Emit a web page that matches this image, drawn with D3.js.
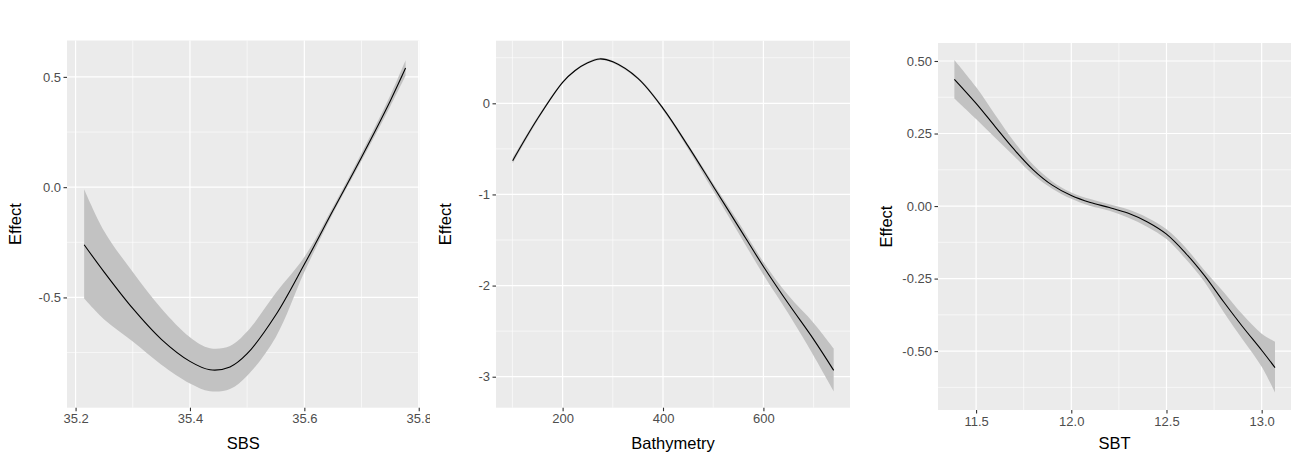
<!DOCTYPE html>
<html>
<head>
<meta charset="utf-8">
<script src="https://cdn.jsdelivr.net/npm/d3@7"></script>
<style>
  body { margin: 0; background: #fff; }
  svg { display: block; font-family: "Liberation Sans", Arial, sans-serif; }
</style>
</head>
<body>
<svg width="1293" height="455"></svg>
<script>
// SBS smooth term
const sbsX     = [35.215, 35.25, 35.3, 35.35, 35.4, 35.435, 35.47, 35.5, 35.55, 35.6, 35.65, 35.7, 35.75, 35.777];
const sbsFit   = [-0.261, -0.385, -0.55, -0.69, -0.79, -0.828, -0.815, -0.755, -0.58, -0.35, -0.106, 0.136, 0.39, 0.54];
const sbsLower = [-0.505, -0.6, -0.7, -0.805, -0.89, -0.925, -0.915, -0.855, -0.68, -0.385, -0.12, 0.12, 0.365, 0.505];
const sbsUpper = [-0.01, -0.2, -0.385, -0.55, -0.68, -0.73, -0.72, -0.655, -0.48, -0.317, -0.09, 0.155, 0.415, 0.576];
const sbsXTicks = [35.2, 35.4, 35.6, 35.8];
const sbsYTicks = [-0.5, 0, 0.5];

// Bathymetry smooth term
const bathX     = [100.5, 150, 200, 225, 250, 274, 300, 350, 400, 450, 500, 550, 600, 650, 700, 740];
const bathFit   = [-0.63, -0.17, 0.23, 0.36, 0.445, 0.487, 0.455, 0.274, -0.055, -0.47, -0.91, -1.35, -1.79, -2.2, -2.59, -2.93];
const bathLower = [-0.66, -0.19, 0.218, 0.348, 0.433, 0.475, 0.443, 0.26, -0.075, -0.5, -0.96, -1.42, -1.88, -2.31, -2.77, -3.16];
const bathUpper = [-0.60, -0.15, 0.242, 0.372, 0.457, 0.499, 0.467, 0.288, -0.04, -0.45, -0.88, -1.30, -1.74, -2.11, -2.41, -2.69];
const bathXTicks = [200, 400, 600];
const bathYTicks = [-3, -2, -1, 0];

// SBT smooth term
const sbtX     = [11.386, 11.5, 11.6, 11.7, 11.8, 11.9, 12.0, 12.1, 12.2, 12.3, 12.4, 12.5, 12.6, 12.7, 12.8, 12.9, 13.0, 13.07];
const sbtFit   = [0.437, 0.354, 0.274, 0.195, 0.125, 0.072, 0.036, 0.012, -0.005, -0.025, -0.055, -0.097, -0.162, -0.24, -0.33, -0.416, -0.497, -0.557];
const sbtLower = [0.371, 0.30, 0.235, 0.172, 0.108, 0.06, 0.025, 0.0, -0.016, -0.04, -0.072, -0.114, -0.182, -0.262, -0.365, -0.46, -0.554, -0.643];
const sbtUpper = [0.503, 0.41, 0.315, 0.222, 0.142, 0.085, 0.047, 0.024, 0.006, -0.012, -0.04, -0.08, -0.143, -0.222, -0.296, -0.374, -0.44, -0.468];
const sbtXTicks = [11.5, 12.0, 12.5, 13.0];
const sbtYTicks = [-0.5, -0.25, 0, 0.25, 0.5];

const panels = [
  { title: "SBS", x: sbsX, fit: sbsFit, lo: sbsLower, hi: sbsUpper,
    xTicks: sbsXTicks, yTicks: sbsYTicks, xFmt: d3.format(".1f"), yFmt: d3.format(".1f"),
    box: [67, 40.5, 419.3, 407.7], xDom: [35.185, 35.801], yDom: [-1.0, 0.665], yTitleX: 15, clipRight: 430 },
  { title: "Bathymetry", x: bathX, fit: bathFit, lo: bathLower, hi: bathUpper,
    xTicks: bathXTicks, yTicks: bathYTicks, xFmt: d3.format("d"), yFmt: d3.format("d"),
    box: [496, 40.7, 850, 407.7], xDom: [67.3, 772.5], yDom: [-3.34, 0.687], yTitleX: 445, clipRight: 900 },
  { title: "SBT", x: sbtX, fit: sbtFit, lo: sbtLower, hi: sbtUpper,
    xTicks: sbtXTicks, yTicks: sbtYTicks, xFmt: d3.format(".1f"), yFmt: d3.format(".2f"),
    box: [938, 43, 1291, 410], xDom: [11.30, 13.154], yDom: [-0.703, 0.562], yTitleX: 886, clipRight: 1293 }
];

const svg = d3.select("svg");
const minus = s => s.replace("\u2212", "-");
const smooth = d3.curveCatmullRom.alpha(0.5);

// minor breaks: midpoints between majors, plus one step outside if still inside the domain
function minorBreaks(ticks, dom) {
  const step = ticks[1] - ticks[0];
  const out = [];
  for (let v = ticks[0] - step / 2; v <= ticks[ticks.length - 1] + step / 2 + 1e-9; v += step) {
    if (v >= dom[0] && v <= dom[1]) out.push(v);
  }
  return out;
}

panels.forEach((p, i) => {
  const [x0, y0, x1, y1] = p.box;
  const xScale = d3.scaleLinear().domain(p.xDom).range([x0, x1]);
  const yScale = d3.scaleLinear().domain(p.yDom).range([y1, y0]);

  svg.append("clipPath").attr("id", "clip" + i)
    .append("rect").attr("x", 0).attr("y", 0).attr("width", p.clipRight).attr("height", 455);

  const g = svg.append("g").attr("clip-path", `url(#clip${i})`);

  g.append("rect")
    .attr("x", x0).attr("y", y0)
    .attr("width", x1 - x0).attr("height", y1 - y0)
    .attr("fill", "#ebebeb");

  // grid
  const grid = g.append("g").attr("stroke", "#fff").attr("fill", "none");
  minorBreaks(p.xTicks, p.xDom).forEach(v => {
    grid.append("line").attr("x1", xScale(v)).attr("x2", xScale(v))
      .attr("y1", y0).attr("y2", y1).attr("stroke-width", 0.6);
  });
  minorBreaks(p.yTicks, p.yDom).forEach(v => {
    grid.append("line").attr("y1", yScale(v)).attr("y2", yScale(v))
      .attr("x1", x0).attr("x2", x1).attr("stroke-width", 0.6);
  });
  p.xTicks.forEach(v => {
    grid.append("line").attr("x1", xScale(v)).attr("x2", xScale(v))
      .attr("y1", y0).attr("y2", y1).attr("stroke-width", 1.2);
  });
  p.yTicks.forEach(v => {
    grid.append("line").attr("y1", yScale(v)).attr("y2", yScale(v))
      .attr("x1", x0).attr("x2", x1).attr("stroke-width", 1.2);
  });

  const rows = p.x.map((xv, k) => ({ x: xv, fit: p.fit[k], lo: p.lo[k], hi: p.hi[k] }));

  const area = d3.area()
    .x(d => xScale(d.x))
    .y0(d => yScale(d.lo))
    .y1(d => yScale(d.hi))
    .curve(smooth);
  g.append("path").datum(rows).attr("d", area).attr("fill", "#c2c2c2");

  const line = d3.line()
    .x(d => xScale(d.x))
    .y(d => yScale(d.fit))
    .curve(smooth);
  g.append("path").datum(rows).attr("d", line)
    .attr("fill", "none").attr("stroke", "#000").attr("stroke-width", 1.1);

  // axes
  const xAxis = d3.axisBottom(xScale).tickValues(p.xTicks).tickSize(3.5).tickPadding(3)
    .tickFormat(d => minus(p.xFmt(d)));
  const gx = g.append("g").attr("transform", `translate(0,${y1})`).call(xAxis);
  const yAxis = d3.axisLeft(yScale).tickValues(p.yTicks).tickSize(3.5).tickPadding(2.5)
    .tickFormat(d => minus(p.yFmt(d)));
  const gy = g.append("g").attr("transform", `translate(${x0},0)`).call(yAxis);

  [gx, gy].forEach(a => {
    a.select(".domain").remove();
    a.selectAll(".tick line").attr("stroke", "#333").attr("stroke-width", 1.1);
    a.selectAll(".tick text").attr("fill", "#4d4d4d")
      .style("font-size", "13px").style("font-family", "'Liberation Sans', Arial, sans-serif");
  });

  g.append("text")
    .attr("x", (x0 + x1) / 2).attr("y", 449)
    .attr("text-anchor", "middle")
    .style("font-size", "16.5px").attr("fill", "#000")
    .text(p.title);

  g.append("text")
    .attr("transform", `translate(${p.yTitleX + 6},${(y0 + y1) / 2}) rotate(-90)`)
    .attr("text-anchor", "middle")
    .style("font-size", "16.5px").attr("fill", "#000")
    .text("Effect");
});
</script>
</body>
</html>
